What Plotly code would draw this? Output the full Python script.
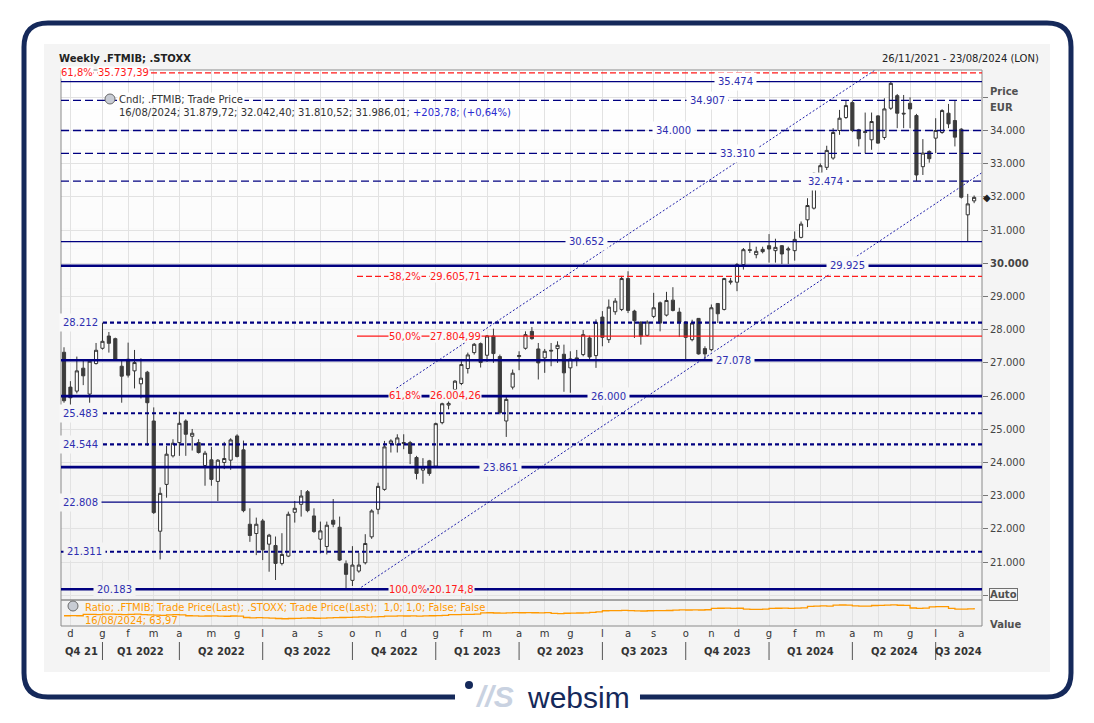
import pandas as pd
import plotly.graph_objects as go

# ---------------- data ----------------
START_DATE = "2021-11-26"
dates = pd.date_range(START_DATE, periods=143, freq="7D")

opens = [27320, 26270, 26150, 26840, 26060, 26980, 27440, 27810, 27730, 26900,
         27110, 26760, 26370, 26720, 25250, 21930, 23340, 24200, 24600, 25250,
         24790, 24600, 23910, 24080, 23430, 24000, 24070, 24800, 24380, 22140,
         21860, 22240, 21540, 21500, 20960, 21180, 22500, 22740, 23120, 22390,
         21690, 21470, 22260, 22050, 20950, 20450, 20730, 20980, 21760, 22590,
         23190, 24570, 24530, 24570, 24600, 24150, 23770, 24050, 23890, 25200,
         25730, 26200, 26380, 26830, 27310, 27580, 27230, 27810, 27190, 25250,
         26270, 27190, 27440, 27950, 27420, 27150, 27380, 27430, 27260, 26850,
         27100, 27250, 27750, 27220, 28380, 27700, 28540, 28610, 29540, 28560,
         28230, 27830, 28400, 28810, 28440, 28890, 28530, 28230, 27700, 28340,
         27430, 27400, 28790, 28610, 29430, 29430, 29960, 30410, 30260, 30420,
         30530, 30380, 30530, 30400, 30380, 30780, 31310, 31660, 32710, 32890,
         33170, 34000, 34390, 34840, 34020, 33970, 33720, 34440, 33790, 34670,
         35050, 34520, 34820, 34450, 32910, 33370, 33770, 33940, 34520, 34300,
         34040, 31460, 31879.72]

highs = [27470, 26450, 27190, 27070, 27100, 27600, 28212, 27930, 27760, 27090,
         27610, 27390, 27140, 26760, 25660, 23250, 24500, 24700, 25530, 25300,
         25010, 24700, 24350, 24470, 24100, 24620, 24730, 24850, 24660, 22620,
         22340, 22300, 21850, 21770, 21870, 22520, 22840, 23170, 23170, 22620,
         22220, 22220, 22900, 22370, 21050, 21480, 21280, 21840, 22590, 23390,
         24650, 24700, 24850, 24850, 24650, 24200, 24130, 24080, 25200, 25800,
         25900, 26480, 27050, 27310, 27600, 27660, 27840, 28030, 27250, 26000,
         26800, 27350, 27950, 28080, 27600, 27420, 27600, 27650, 27550, 27350,
         27390, 27990, 27820, 28310, 28560, 28910, 28950, 29620, 29760, 28600,
         28250, 28280, 29110, 28850, 29140, 29280, 28660, 28250, 28300, 28350,
         27500, 28760, 28800, 29560, 29560, 30010, 30460, 30630, 30500, 30500,
         30880, 30740, 30550, 30500, 30960, 31260, 31960, 32740, 33010, 33540,
         34070, 34620, 34900, 34907, 34050, 34540, 34540, 34460, 34970, 35474,
         35100, 35070, 35000, 34500, 33740, 33400, 34370, 34640, 34800, 34907,
         34070, 32090, 32042.40]

lows = [25800, 25660, 26080, 26330, 25800, 26950, 27400, 27310, 27060, 25800,
        26560, 26230, 25930, 24500, 22450, 21080, 22940, 24150, 24200, 24200,
        24360, 24270, 23300, 23300, 22840, 23800, 23780, 24150, 22500, 21610,
        21210, 21060, 20710, 20460, 20900, 21150, 22190, 22370, 22500, 21880,
        21260, 21230, 22050, 21030, 20183, 20280, 20680, 20930, 21700, 22440,
        23150, 24300, 24300, 24400, 23950, 23490, 23360, 23600, 23860, 25150,
        25600, 26150, 26330, 26680, 27250, 26860, 27030, 27000, 25450, 24770,
        26200, 26780, 27400, 27700, 26500, 26700, 26900, 27000, 26130, 26100,
        26900, 27200, 27100, 26850, 27500, 27600, 28450, 28560, 28500, 27750,
        27550, 27800, 28350, 27950, 28400, 28550, 27780, 27100, 27650, 27250,
        27078, 27350, 28200, 28580, 29360, 29160, 29810, 30310, 30150, 30300,
        30020, 30020, 29980, 29980, 30080, 30750, 31090, 31620, 32660, 32810,
        33120, 33870, 34350, 33950, 33520, 33310, 33420, 33600, 33720, 34620,
        34070, 34070, 34070, 32474, 32660, 33030, 33320, 33900, 34070, 33520,
        31950, 30652, 31810.52]

closes = [25860, 25950, 26760, 26610, 27050, 27380, 27650, 27590, 27090, 26600,
          26630, 27010, 26540, 25800, 22490, 23070, 24250, 24580, 25180, 24850,
          24880, 24300, 24280, 23490, 24070, 24120, 24680, 24180, 22550, 21800,
          22140, 21370, 21810, 20960, 21230, 22440, 22620, 22990, 22550, 21920,
          21940, 22110, 22140, 21060, 20630, 20910, 20910, 21560, 22540, 23280,
          24470, 24650, 24740, 24600, 24270, 23670, 23860, 23670, 25170, 25770,
          25780, 26450, 26950, 27240, 27560, 27010, 27810, 27280, 25500, 25900,
          26690, 27220, 27850, 27730, 27000, 27350, 27360, 27530, 26700, 27120,
          27150, 27850, 27180, 28220, 27770, 28680, 28860, 29540, 28580, 28270,
          27800, 28230, 28660, 28200, 28880, 28580, 28230, 27770, 28200, 27270,
          27270, 28660, 28480, 29540, 29460, 29960, 30410, 30390, 30360, 30350,
          30430, 30480, 30280, 30430, 30720, 31180, 31740, 32710, 32940, 33400,
          33940, 34370, 34750, 34000, 33750, 33940, 34270, 33620, 34650, 35420,
          34520, 34500, 34650, 32660, 33320, 33150, 34000, 34600, 34200, 33800,
          31990, 31790, 31986.01]

ratio = [55.0, 55.2, 55.0,
         56.5, 56.7, 56.4, 56.8, 57.0, 56.6, 56.3, 56.5, 56.9, 56.4, 56.0, 55.8, 55.5, 56.0, 56.2, 56.0,
         55.0, 54.8, 54.5, 54.7, 54.9, 54.6, 54.4, 54.7, 54.5,
         53.0, 52.6, 52.8, 52.5, 52.2, 51.8,
         51.5, 51.8, 52.0, 52.2, 52.4, 52.1, 52.3, 52.6, 52.8, 53.0, 53.2,
         53.4, 53.6, 53.5, 53.8, 54.0,
         54.5, 54.6, 54.8, 54.7, 54.9, 54.6, 54.8, 55.0, 55.2, 55.5,
         56.2, 56.4, 56.5, 56.7, 56.8,
         58.3, 58.5, 58.2, 58.0, 58.4, 58.6, 58.5, 58.7, 58.5, 58.4, 58.6,
         57.8, 57.5, 57.9, 58.0, 58.2, 58.4, 59.0, 59.5,
         60.8, 61.0, 60.9, 61.2, 60.9, 60.7, 60.5, 60.8, 61.0, 60.9, 61.1,
         61.6, 61.8, 61.7, 61.9, 61.7,
         62.0, 63.5, 63.7, 63.8, 63.6, 63.7,
         62.6, 62.4, 62.5, 62.6,
         63.5, 63.7, 63.8, 63.6, 63.8, 64.2,
         66.0, 66.2, 66.4, 66.3,
         67.3, 67.5, 67.4,
         66.4, 66.2, 66.3,
         66.9, 67.1, 67.3, 67.6, 67.2, 67.0,
         64.0, 63.6, 63.8,
         65.3, 65.6, 65.5,
         63.5, 62.8, 62.6, 63.0, 63.97]

MONTH_LETTERS = ["g", "f", "m", "a", "m", "g", "l", "a", "s", "o", "n", "d"]
QUARTER_LABELS = ["Q4 21", "Q1 2022", "Q2 2022", "Q3 2022", "Q4 2022", "Q1 2023",
                  "Q2 2023", "Q3 2023", "Q4 2023", "Q1 2024", "Q2 2024", "Q3 2024"]
PRICE_TICKS = list(range(20000, 36000, 1000))

# horizontal support / resistance levels
LEVELS = [35474, 34907, 34000, 33310, 32474, 30652, 29925, 28212,
          27078, 26000, 25483, 24544, 23861, 22808, 21311, 20183]
LEVEL_KIND = ["thin", "ldash", "ldash", "ldash", "ldash", "thin", "thick", "sdash",
              "thick", "thick", "sdash", "sdash", "thick", "thin", "sdash", "thick"]
LEVEL_LABEL_PX = [735, 707, 673, 737, 825, 586, 847, 80,
                  733, 608, 80, 80, 500, 80, 84, 114]

# Fibonacci retracement
FIB_LEVELS = [35737.39, 29605.71, 27804.99, 26004.26, 20174.8]
FIB_PCT = ["61,8%", "38,2%", "50,0%", "61,8%", "100,0%"]
FIB_VALUE = ["35.737,39", "29.605,71", "27.804,99", "26.004,26", "20.174,8"]
FIB_KIND = ["dash", "dash", "solid", "dash", "solid"]
FIB_START = [None, "2022-10-12", "2022-10-12", "2022-10-12", "2022-10-12"]
FIB_PCT_PX = [77, 405, 405, 405, 408]
FIB_VAL_PX = [123, 455, 455, 455, 451]

# trend channel
CHANNEL_LOWER_X = ["2022-10-13", "2024-08-24"]
CHANNEL_LOWER_Y = [20175, 32720]
CHANNEL_UPPER_X = ["2022-11-24", "2024-08-24"]
CHANNEL_UPPER_Y = [26235, 37952]

X_RANGE = ["2021-11-22 17:00", "2024-08-24 14:00"]
Y_RANGE = [19858, 35822]
RATIO_RANGE = [43.1, 73.3]

# ---------------- geometry helpers ----------------
OFF = 8                      # page body margin of the html page
FIG_W, FIG_H = 1094 - 2 * OFF, 723 - 2 * OFF
L, R, T, B = 61, 982, 70, 626   # plot area in screen pixels
SPLIT = 600
W, H = R - L, B - T


def px(x):
    return (x - L) / W


def py(y):
    return (B - y) / H


def ypix(v):
    return T + (Y_RANGE[1] - v) / (Y_RANGE[1] - Y_RANGE[0]) * (SPLIT - T)


def bg_at(yp):
    g = 255 - round(13 * (yp - T) / H)
    return f"rgb({g},{g},{g})"


def it_num(v):
    return f"{int(round(v)):,}".replace(",", ".")


def ann(**kw):
    d = dict(showarrow=False, xanchor="center", yanchor="middle")
    d.update(kw)
    return d


FONT = "DejaVu Sans"
NAVY = "#000080"
LBL_BLUE = "#2e2eb0"
RED = "#ff1a1a"
FRAME = "#15295a"

fig = go.Figure()

fig.add_trace(go.Candlestick(
    x=dates, open=opens, high=highs, low=lows, close=closes,
    xaxis="x", yaxis="y",
    increasing=dict(line=dict(color="#333333", width=1), fillcolor="#ffffff"),
    decreasing=dict(line=dict(color="#3c3c3c", width=1), fillcolor="#3c3c3c"),
    whiskerwidth=0, showlegend=False, hoverinfo="skip"))

for cx, cy in ((CHANNEL_LOWER_X, CHANNEL_LOWER_Y), (CHANNEL_UPPER_X, CHANNEL_UPPER_Y)):
    fig.add_trace(go.Scatter(x=cx, y=cy, mode="lines", xaxis="x", yaxis="y",
                             line=dict(color="#1c1ca8", width=1, dash="2px,2px"),
                             showlegend=False, hoverinfo="skip"))

fig.add_trace(go.Scatter(x=dates, y=ratio, mode="lines", xaxis="x", yaxis="y2",
                         line=dict(color="#ff9900", width=1.3, shape="hv"),
                         showlegend=False, hoverinfo="skip"))

shapes = []
annotations = []

# outer light panel
shapes.append(dict(type="rect", xref="paper", yref="paper", layer="below",
                   x0=px(44), x1=px(1050), y0=py(672), y1=py(44),
                   fillcolor="#f4f4f4", line=dict(width=0)))
# plot background gradient
NB = 28
for k in range(NB):
    y0 = T + k * H / NB
    y1 = T + (k + 1) * H / NB
    shapes.append(dict(type="rect", xref="paper", yref="paper", layer="below",
                       x0=0, x1=1, y0=py(y1), y1=py(y0),
                       fillcolor=bg_at((y0 + y1) / 2), line=dict(width=0)))


def P(x, y):
    return f"{px(x):.5f},{py(y):.5f}"


# rounded frame (open at bottom for logo)
x0f, y0f, x1f, y1f, rr = 24, 23, 1071, 697, 24
frame_path = ("M " + P(455, y1f) + " L " + P(x0f + rr, y1f) + " Q " + P(x0f, y1f) + " " + P(x0f, y1f - rr) +
              " L " + P(x0f, y0f + rr) + " Q " + P(x0f, y0f) + " " + P(x0f + rr, y0f) +
              " L " + P(x1f - rr, y0f) + " Q " + P(x1f, y0f) + " " + P(x1f, y0f + rr) +
              " L " + P(x1f, y1f - rr) + " Q " + P(x1f, y1f) + " " + P(x1f - rr, y1f) +
              " L " + P(640, y1f))
shapes.append(dict(type="path", xref="paper", yref="paper", path=frame_path,
                   line=dict(color=FRAME, width=5)))
# logo dot
shapes.append(dict(type="circle", xref="paper", yref="paper",
                   x0=px(465), x1=px(473), y0=py(689), y1=py(681),
                   fillcolor=FRAME, line=dict(width=0)))

# panel borders
shapes.append(dict(type="rect", xref="paper", yref="paper", x0=0, x1=1, y0=py(SPLIT), y1=1,
                   line=dict(color="#8a8a8a", width=1)))
shapes.append(dict(type="rect", xref="paper", yref="paper", x0=0, x1=1, y0=0, y1=py(SPLIT),
                   line=dict(color="#8a8a8a", width=1)))

STYLE = {
    "thick": dict(width=2.6, dash="solid"),
    "thin": dict(width=1.2, dash="solid"),
    "ldash": dict(width=1.3, dash="8px,4px"),
    "sdash": dict(width=2.2, dash="4px,3px"),
}

# Fibonacci lines (red)
for lv, pct, val, kind, st, ppx, vpx in zip(FIB_LEVELS, FIB_PCT, FIB_VALUE, FIB_KIND,
                                             FIB_START, FIB_PCT_PX, FIB_VAL_PX):
    dash = "6px,3px" if kind == "dash" else "solid"
    if st is None:
        shapes.append(dict(type="line", xref="paper", yref="y", x0=0, x1=1, y0=lv, y1=lv,
                           layer="above", line=dict(color=RED, width=1.2, dash=dash)))
    else:
        shapes.append(dict(type="line", xref="x", yref="y", x0=st, x1=X_RANGE[1], y0=lv, y1=lv,
                           layer="above", line=dict(color=RED, width=1.1, dash=dash)))
    bgc = bg_at(ypix(lv))
    annotations.append(ann(xref="paper", yref="y", x=px(ppx), y=lv, text=pct,
                           font=dict(family=FONT, size=10, color=RED), bgcolor=bgc, borderpad=0))
    annotations.append(ann(xref="paper", yref="y", x=px(vpx), y=lv, text=val,
                           font=dict(family=FONT, size=10, color=RED), bgcolor=bgc, borderpad=0))

# blue levels
for lv, kind, lpx in zip(LEVELS, LEVEL_KIND, LEVEL_LABEL_PX):
    shapes.append(dict(type="line", xref="paper", yref="y", x0=0, x1=1, y0=lv, y1=lv,
                       layer="above", line=dict(color=NAVY, **STYLE[kind])))
    annotations.append(ann(xref="paper", yref="y", x=px(lpx), y=lv, text=it_num(lv),
                           font=dict(family=FONT, size=10, color=LBL_BLUE),
                           bgcolor=bg_at(ypix(lv)), borderpad=3))

# month ticks and quarters
tickvals, ticktext, qstarts = [], [], []
for k in range(1, len(dates)):
    if dates[k].month != dates[k - 1].month:
        tickvals.append(dates[k].strftime("%Y-%m-%d"))
        ticktext.append(MONTH_LETTERS[dates[k].month - 1])
        if dates[k].month in (1, 4, 7, 10):
            qstarts.append(dates[k])

bounds = [pd.Timestamp(X_RANGE[0])] + qstarts + [pd.Timestamp(X_RANGE[1])]
for q, lab in enumerate(QUARTER_LABELS):
    mid = bounds[q] + (bounds[q + 1] - bounds[q]) / 2
    annotations.append(ann(xref="x", yref="paper", x=mid, y=py(651), text=f"<b>{lab}</b>",
                           font=dict(family=FONT, size=10, color="#333333")))
for qs in qstarts:
    shapes.append(dict(type="line", xref="x", yref="paper", x0=qs, x1=qs,
                       y0=py(642), y1=py(660), line=dict(color="#555555", width=1)))

# legend-style icons
shapes.append(dict(type="circle", xref="paper", yref="paper", x0=px(105), x1=px(115),
                   y0=py(104), y1=py(94), fillcolor="#c8ccd4", line=dict(color="#6a6a6a", width=1)))
shapes.append(dict(type="circle", xref="paper", yref="paper", x0=px(68), x1=px(78),
                   y0=py(611), y1=py(601), fillcolor="#c8ccd4", line=dict(color="#6a6a6a", width=1)))

annotations += [
    ann(xref="paper", yref="paper", x=px(57), y=py(59), xanchor="left",
        text="<b>Weekly .FTMIB; .STOXX</b>", font=dict(family=FONT, size=10, color="#222222")),
    ann(xref="paper", yref="paper", x=px(1041), y=py(59), xanchor="right",
        text="26/11/2021 - 23/08/2024 (LON)", font=dict(family=FONT, size=10, color="#222222")),
    ann(xref="paper", yref="paper", x=px(117), y=py(99), xanchor="left",
        text="Cndl; .FTMIB; Trade Price", bgcolor=bg_at(99), borderpad=1,
        font=dict(family=FONT, size=10, color="#333333")),
    ann(xref="paper", yref="paper", x=px(117), y=py(113), xanchor="left",
        text="16/08/2024; 31.879,72; 32.042,40; 31.810,52; 31.986,01; "
             "<span style='color:#2a2ad0'>+203,78; (+0,64%)</span>",
        font=dict(family=FONT, size=10, color="#333333")),
    ann(xref="paper", yref="paper", x=px(83), y=py(607), xanchor="left",
        text="Ratio; .FTMIB; Trade Price(Last); .STOXX; Trade Price(Last);  1,0; 1,0; False; False",
        font=dict(family=FONT, size=10, color="#ff9900")),
    ann(xref="paper", yref="paper", x=px(83), y=py(620), xanchor="left",
        text="16/08/2024; 63,97", font=dict(family=FONT, size=10, color="#ff9900")),
    ann(xref="paper", yref="paper", x=px(988), y=py(92), xanchor="left",
        text="<b>Price</b>", font=dict(family=FONT, size=10, color="#505050")),
    ann(xref="paper", yref="paper", x=px(988), y=py(107), xanchor="left",
        text="<b>EUR</b>", font=dict(family=FONT, size=10, color="#505050")),
    ann(xref="paper", yref="paper", x=px(989), y=py(594), xanchor="left",
        text="<b>Auto</b>", bordercolor="#707070", borderwidth=1, borderpad=0,
        bgcolor="#f4f4f4", font=dict(family=FONT, size=10, color="#505050")),
    ann(xref="paper", yref="paper", x=px(988), y=py(624), xanchor="left",
        text="<b>Value</b>", font=dict(family=FONT, size=10, color="#505050")),
    ann(xref="paper", yref="y", x=px(987), y=closes[-1], text="◆",
        font=dict(family=FONT, size=10, color="#222222")),
    ann(xref="paper", yref="paper", x=px(494), y=py(696), text="<b><i>//S</i></b>",
        font=dict(family="Liberation Sans", size=30, color="#c9d2e1")),
    ann(xref="paper", yref="paper", x=px(578), y=py(697), text="websim",
        font=dict(family="Liberation Sans", size=30, color=FRAME)),
]

price_text = []
for v in PRICE_TICKS:
    if v in (20000, 35000):
        price_text.append("")
    elif v == 30000:
        price_text.append("<b>" + it_num(v) + "</b>")
    else:
        price_text.append(it_num(v))

fig.update_layout(
    width=FIG_W, height=FIG_H, autosize=False,
    margin=dict(l=L - OFF, r=FIG_W - (R - OFF), t=T - OFF, b=FIG_H - (B - OFF), pad=0),
    paper_bgcolor="#ffffff", plot_bgcolor="rgba(0,0,0,0)",
    showlegend=False,
    font=dict(family=FONT, size=10, color="#333333"),
    xaxis=dict(type="date", range=X_RANGE, anchor="y2", rangeslider=dict(visible=False),
               tickmode="array", tickvals=tickvals, ticktext=ticktext, ticks="",
               showgrid=True, gridcolor="#e2e2e2", gridwidth=1, zeroline=False, showline=False,
               tickfont=dict(family=FONT, size=10, color="#333333")),
    yaxis=dict(domain=[py(SPLIT), 1], range=Y_RANGE, side="right", anchor="x",
               tickmode="array", tickvals=PRICE_TICKS, ticktext=price_text,
               ticks="outside", ticklen=5, tickcolor="#777777",
               showgrid=True, gridcolor="#e2e2e2", zeroline=False, showline=False,
               tickfont=dict(family=FONT, size=10, color="#444444")),
    yaxis2=dict(domain=[0, py(SPLIT)], range=RATIO_RANGE, side="right", anchor="x",
                showticklabels=False, ticks="", showgrid=False, zeroline=False, showline=False),
    shapes=shapes,
    annotations=annotations,
)

fig.write_html("out.html")
